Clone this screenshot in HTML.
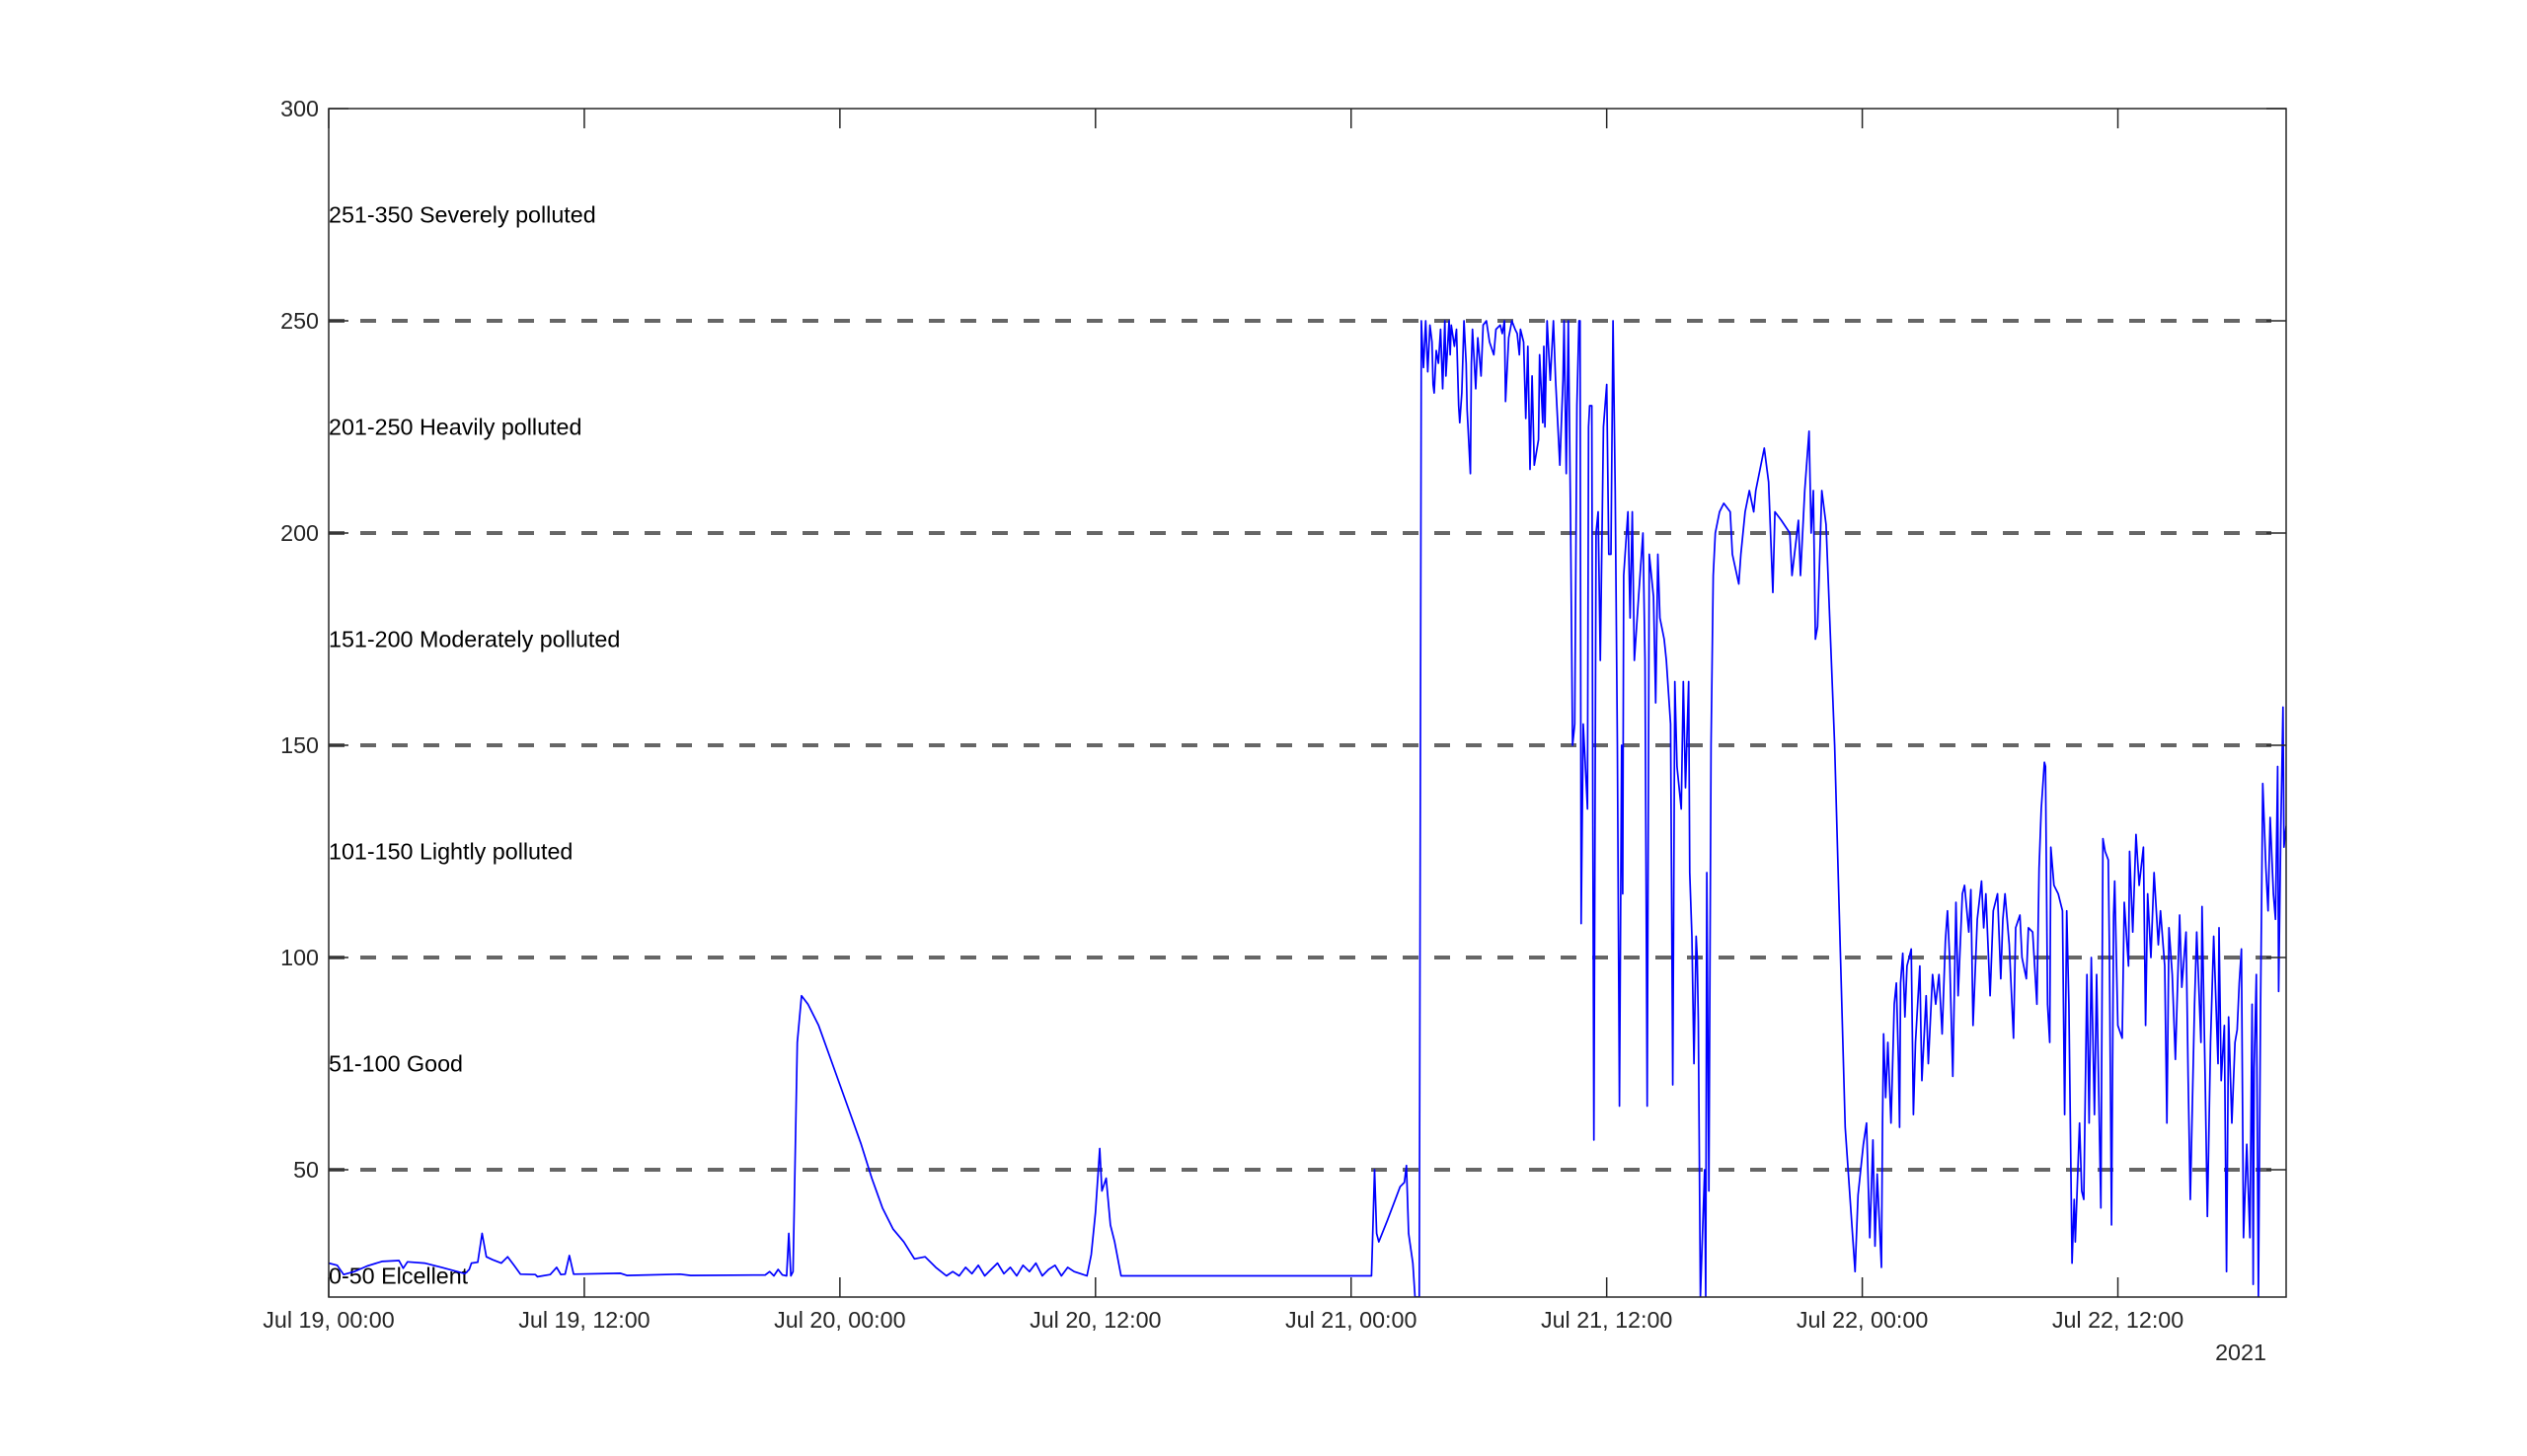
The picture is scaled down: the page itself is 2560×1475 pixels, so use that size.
<!DOCTYPE html>
<html><head><meta charset="utf-8"><style>
html,body{margin:0;padding:0;background:#fff;}
svg{display:block;font-family:"Liberation Sans",Arial,sans-serif;}
</style></head><body>
<svg id="chart" width="2560" height="1475" viewBox="0 0 2560 1475" xmlns="http://www.w3.org/2000/svg">
<rect x="0" y="0" width="2560" height="1475" fill="#fff"/>
<g id="grid"></g>
<g id="bands"></g>
<g id="series"></g>
<g id="axes"></g>
</svg>
<script>
const hours = [0,0.4,0.7,1.2,1.8,2.5,3.3,3.5,3.7,4.5,5.3,6.4,6.6,6.7,7.0,7.2,7.4,7.7,8.1,8.4,8.7,9.0,9.7,9.8,10.4,10.7,10.9,11.1,11.3,11.5,13.7,14,16.5,17,20.5,20.7,20.9,21.1,21.3,21.5,21.6,21.7,21.8,22,22.2,22.5,23,23.5,24,24.5,25,25.5,26,26.5,27,27.5,28,28.5,29,29.3,29.6,29.9,30.2,30.5,30.8,31.1,31.4,31.7,32,32.3,32.6,32.9,33.2,33.5,33.8,34.1,34.4,34.7,35,35.3,35.6,35.8,36,36.2,36.3,36.5,36.7,36.9,37.2,38,48.96,49.0,49.1,49.2,49.3,49.7,50.0,50.3,50.5,50.6,50.7,50.9,51.0,51.2,51.3,51.35,51.4,51.5,51.6,51.7,51.8,51.85,51.9,52.0,52.1,52.2,52.3,52.4,52.45,52.6,52.65,52.7,52.85,52.95,53.05,53.1,53.2,53.3,53.4,53.45,53.6,53.65,53.7,53.85,53.95,54.1,54.2,54.35,54.5,54.7,54.8,55.0,55.1,55.2,55.25,55.4,55.55,55.7,55.8,55.9,55.95,56.1,56.2,56.3,56.4,56.5,56.6,56.8,56.85,57.0,57.05,57.1,57.2,57.35,57.5,57.6,57.8,57.95,58.0,58.1,58.2,58.3,58.4,58.5,58.6,58.7,58.75,58.8,58.9,59.0,59.1,59.15,59.2,59.3,59.35,59.4,59.5,59.6,59.7,59.85,60.0,60.1,60.2,60.3,60.4,60.5,60.6,60.7,60.75,60.8,61.0,61.1,61.2,61.3,61.5,61.7,61.8,61.9,62.0,62.2,62.3,62.4,62.5,62.7,62.8,63.0,63.1,63.2,63.3,63.5,63.6,63.7,63.85,63.9,64.0,64.1,64.2,64.25,64.3,64.4,64.6,64.65,64.7,64.8,64.9,65.0,65.1,65.3,65.5,65.8,65.9,66.2,66.3,66.5,66.7,66.9,67.0,67.2,67.4,67.6,67.8,67.9,68.2,68.6,68.7,69.0,69.1,69.3,69.5,69.6,69.7,69.8,69.9,70.1,70.3,70.7,71.2,71.66,71.8,72.05,72.2,72.35,72.5,72.6,72.7,72.9,72.95,73.0,73.1,73.2,73.35,73.5,73.6,73.7,73.75,73.8,73.9,74.0,74.1,74.3,74.4,74.5,74.7,74.75,74.8,75.0,75.1,75.3,75.45,75.6,75.75,75.9,76.0,76.1,76.25,76.4,76.5,76.7,76.8,77.0,77.1,77.2,77.4,77.6,77.7,77.8,78.0,78.15,78.35,78.5,78.6,78.7,78.9,79.1,79.2,79.4,79.5,79.7,79.8,80.0,80.2,80.3,80.4,80.55,80.6,80.7,80.8,80.85,81.0,81.2,81.4,81.5,81.6,81.7,81.85,81.95,82.0,82.2,82.3,82.4,82.55,82.65,82.75,82.9,83.0,83.2,83.3,83.4,83.55,83.6,83.7,83.8,83.85,84.0,84.2,84.3,84.5,84.55,84.7,84.85,85.0,85.2,85.3,85.4,85.55,85.7,85.9,86.0,86.2,86.3,86.4,86.55,86.7,86.9,87.0,87.2,87.3,87.4,87.6,87.7,87.9,87.95,88.1,88.2,88.35,88.5,88.7,88.75,88.85,89.0,89.1,89.2,89.35,89.5,89.6,89.7,89.8,89.9,90.05,90.2,90.3,90.35,90.4,90.5,90.6,90.7,90.8,90.95,91.05,91.15,91.3,91.4,91.5,91.55,91.65,91.75,91.8,91.9];
const aqi = [28,27.5,25.3,26,27.3,28.4,28.6,26.8,28.3,28,27,25.5,26.5,28,28.2,35,29.5,28.8,28,29.5,27.5,25.4,25.3,24.8,25.3,27,25.3,25.4,29.8,25.4,25.6,25.1,25.4,25.1,25.2,26,25,26.5,25.2,25,35,25,26,80,91,89,84,77,70,63,56,48,41,36,33,29,29.5,27,25,26,25,27,25.5,27.5,25,26.5,28,25.5,27,25,27.5,26,28,25,26.5,27.5,25,27,26,25.5,25,30,40,55,45,48,37,33,25,25,25,32,50,35,33,38,42,46,47,51,35,28,20,20,250,244,239,250,238,249,245,235,233,243,240,248,234,250,237,250,242,249,244,248,230,226,233,250,240,229,214,240,248,234,246,237,249,250,245,242,248,249,247,250,231,246,250,248,247,242,248,245,227,244,215,237,216,222,242,226,244,225,250,236,250,236,216,236,250,214,250,205,150,155,230,250,250,108,155,145,135,225,230,230,135,57,200,205,170,225,235,195,195,250,210,150,65,150,115,190,205,180,205,170,185,200,170,65,195,185,160,195,180,175,170,155,70,165,145,135,165,140,165,120,105,75,105,100,85,20,50,20,120,45,150,190,200,205,207,205,195,188,195,205,210,205,210,215,220,212,186,205,203,200,190,203,190,210,224,200,210,175,178,210,202,150,60,26,44,56,61,34,57,32,49,27,61,82,67,80,61,89,94,75,60,94,101,86,98,102,63,80,98,84,71,91,75,96,89,96,82,104,111,100,72,113,91,115,117,106,116,84,109,118,107,115,91,111,115,95,109,115,103,81,107,110,100,95,107,106,89,121,135,146,145,89,80,126,117,115,111,63,111,89,28,43,33,61,45,43,96,61,100,63,96,41,128,125,123,103,37,110,118,84,81,113,98,125,106,129,117,126,84,115,100,120,103,111,98,61,107,96,76,110,93,106,72,43,89,106,80,112,71,39,80,105,75,107,71,84,26,86,61,80,83,94,102,34,56,34,89,23,74,96,20,89,141,121,111,133,115,109,145,92,130,159,126,131];
const yTicks = [50,100,150,200,250,300];
const thresholds = [50,100,150,200,250];
const xTickLabels = ["Jul 19, 00:00","Jul 19, 12:00","Jul 20, 00:00","Jul 20, 12:00","Jul 21, 00:00","Jul 21, 12:00","Jul 22, 00:00","Jul 22, 12:00"];
const xTickHours = [0,12,24,36,48,60,72,84];
const bandLabels = ["0-50 Elcellent","51-100 Good","101-150 Lightly polluted","151-200 Moderately polluted","201-250 Heavily polluted","251-350 Severely polluted"];
const bandValues = [25,75,125,175,225,275];

const L=333,R=2316,T=110,B=1314,H0=0,H1=91.9,V0=20,V1=300;
const xs=h=>L+(h-H0)/(H1-H0)*(R-L);
const ys=v=>B-(v-V0)/(V1-V0)*(B-T);
const NS="http://www.w3.org/2000/svg";
function mk(tag,attrs,parent){const e=document.createElementNS(NS,tag);for(const k in attrs)e.setAttribute(k,attrs[k]);parent.appendChild(e);return e;}
const grid=document.getElementById('grid'),bands=document.getElementById('bands'),series=document.getElementById('series'),axes=document.getElementById('axes');

thresholds.forEach(v=>{
  const l=mk('line',{x1:L,x2:R,y1:ys(v),y2:ys(v),stroke:'#666','stroke-width':4,'stroke-dasharray':'16,16'},grid);
  
  
});
bandLabels.forEach((t,i)=>{
  const e=mk('text',{x:L,y:ys(bandValues[i])+8,'font-size':23.3,fill:'#000'},bands);
  e.textContent=t;
  
  
});

let d='';
for(let i=0;i<hours.length;i++){d+=(i?'L':'M')+xs(hours[i]).toFixed(1)+','+ys(Math.max(V0,aqi[i])).toFixed(1);}
const cp=mk('clipPath',{id:'clip'},series);mk('rect',{x:L,y:T,width:R-L,height:B-T},cp);
const p=mk('path',{d:d,fill:'none',stroke:'#0000ff','stroke-width':1.7,'stroke-linejoin':'round','clip-path':'url(#clip)'},series);



const box=mk('rect',{x:L,y:T,width:R-L,height:B-T,fill:'none',stroke:'#262626','stroke-width':1.5},axes);


yTicks.forEach(v=>{
  const y=ys(v);
  mk('line',{x1:L,x2:L+20,y1:y,y2:y,stroke:'#262626','stroke-width':1.5},axes);
  mk('line',{x1:R-20,x2:R,y1:y,y2:y,stroke:'#262626','stroke-width':1.5},axes);
  const t=mk('text',{x:L-10,y:y+8,'font-size':23.3,fill:'#262626','text-anchor':'end'},axes);
  t.textContent=v;
  
  
});
xTickHours.forEach((h,i)=>{
  const x=xs(h);
  mk('line',{x1:x,x2:x,y1:B,y2:B-20,stroke:'#262626','stroke-width':1.5},axes);
  mk('line',{x1:x,x2:x,y1:T,y2:T+20,stroke:'#262626','stroke-width':1.5},axes);
  const t=mk('text',{x:x,y:1345,'font-size':23.3,fill:'#262626','text-anchor':'middle'},axes);
  t.textContent=xTickLabels[i];
  
  
});
const yr=mk('text',{x:2270,y:1378,'font-size':23.3,fill:'#262626','text-anchor':'middle'},axes);
yr.textContent='2021';


</script>
</body></html>
